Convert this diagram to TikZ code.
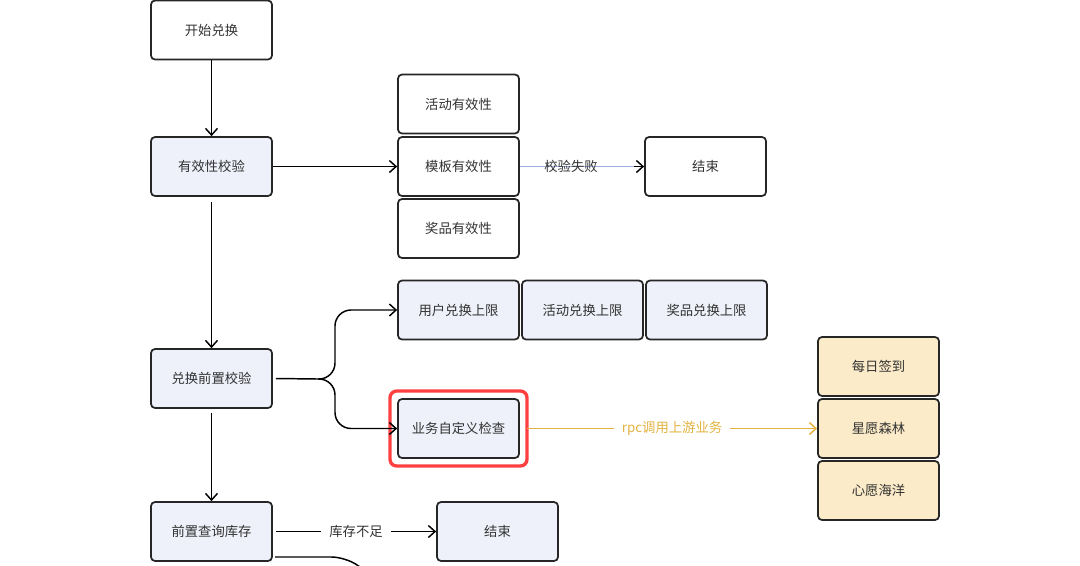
\documentclass[tikz,border=0pt]{standalone}
\usepackage{fontspec}
\setmainfont{Noto Sans CJK SC}
\usetikzlibrary{arrows.meta}
\definecolor{boxblue}{HTML}{EEF1F9}
\definecolor{boxyel}{HTML}{FBEBC8}
\definecolor{txt}{HTML}{333333}
\definecolor{rpc}{HTML}{E3B341}
\definecolor{fail}{HTML}{9FB0E0}
\tikzset{
  bx/.style={draw=black!85,line width=1.3pt,rounded corners=3pt,minimum width=121*0.75pt,minimum height=59*0.75pt,inner sep=0pt,font=\fontsize{10}{12}\selectfont,text=txt},
  wb/.style={bx,fill=white},
  bb/.style={bx,fill=boxblue},
  yb/.style={bx,fill=boxyel},
  ar/.style={line width=1.1pt,-{Straight Barb[length=5pt,width=9pt]}},
  lab/.style={fill=white,inner sep=2pt,font=\fontsize{10}{12}\selectfont,text=txt}
}
\begin{document}
\begin{tikzpicture}[x=0.75pt,y=-0.75pt]
\useasboundingbox[fill=white] (0,0) rectangle (1080,565);
\node[wb] (start) at (211.5,30) {开始兑换};
\node[bb] (valid) at (211.5,166.5) {有效性校验};
\node[wb] (act) at (458.5,104) {活动有效性};
\node[wb] (tpl) at (458.5,166.5) {模板有效性};
\node[wb] (prz) at (458.5,228.5) {奖品有效性};
\node[wb] (end1) at (705.5,166.5) {结束};
\node[bb] (u1) at (458.5,310) {用户兑换上限};
\node[bb] (u2) at (582.5,310) {活动兑换上限};
\node[bb] (u3) at (706.5,310) {奖品兑换上限};
\node[bb] (pre) at (211.5,378.5) {兑换前置校验};
\node[bb] (biz) at (458.5,428.5) {业务自定义检查};
\draw[red!75!white,line width=2.5pt,rounded corners=5pt] (390,391) rectangle (527,466);
\node[yb] (d1) at (878.5,366.5) {每日签到};
\node[yb] (d2) at (878.5,428.5) {星愿森林};
\node[yb] (d3) at (878.5,490.5) {心愿海洋};
\node[bb] (stock) at (211.5,531.5) {前置查询库存};
\node[bb] (end2) at (497.5,531.5) {结束};
\coordinate (br) at (335,379);
\draw[ar] (start) -- (valid);
\draw[ar] (valid) -- (tpl);
\draw[fail,line width=1.3pt] (tpl.east) -- (640,166.5);
\draw[ar,draw=black] (634,166.5) -- (end1.west);
\node[lab,fill=none] at (571,166.5) {校验失败};
\draw[ar] (valid.south)++(0,5) -- (pre);
\draw[line width=1.1pt] (pre.east)++(3,0) -- (318,379);
\draw[ar,rounded corners=12pt] (318,379) -- (335,379) -- (335,310) -- (u1.west);
\draw[ar,rounded corners=12pt] (318,379) -- (335,379) -- (335,428.5) -- (biz.west);
\draw[rpc,line width=1.1pt,-{Straight Barb[length=5pt,width=9pt]}] (527,428.5) -- node[lab,text=rpc,fill=white,inner xsep=6pt]{rpc调用上游业务} (d2.west);
\draw[ar] (pre.south)++(0,4) -- (stock);
\draw[ar] (stock.east)++(3,0) -- node[lab,inner xsep=6pt]{库存不足} (end2.west);
\draw[line width=1.1pt,rounded corners=10pt] (275,557) -- (345,557) -- (360,567);
\end{tikzpicture}
\end{document}
